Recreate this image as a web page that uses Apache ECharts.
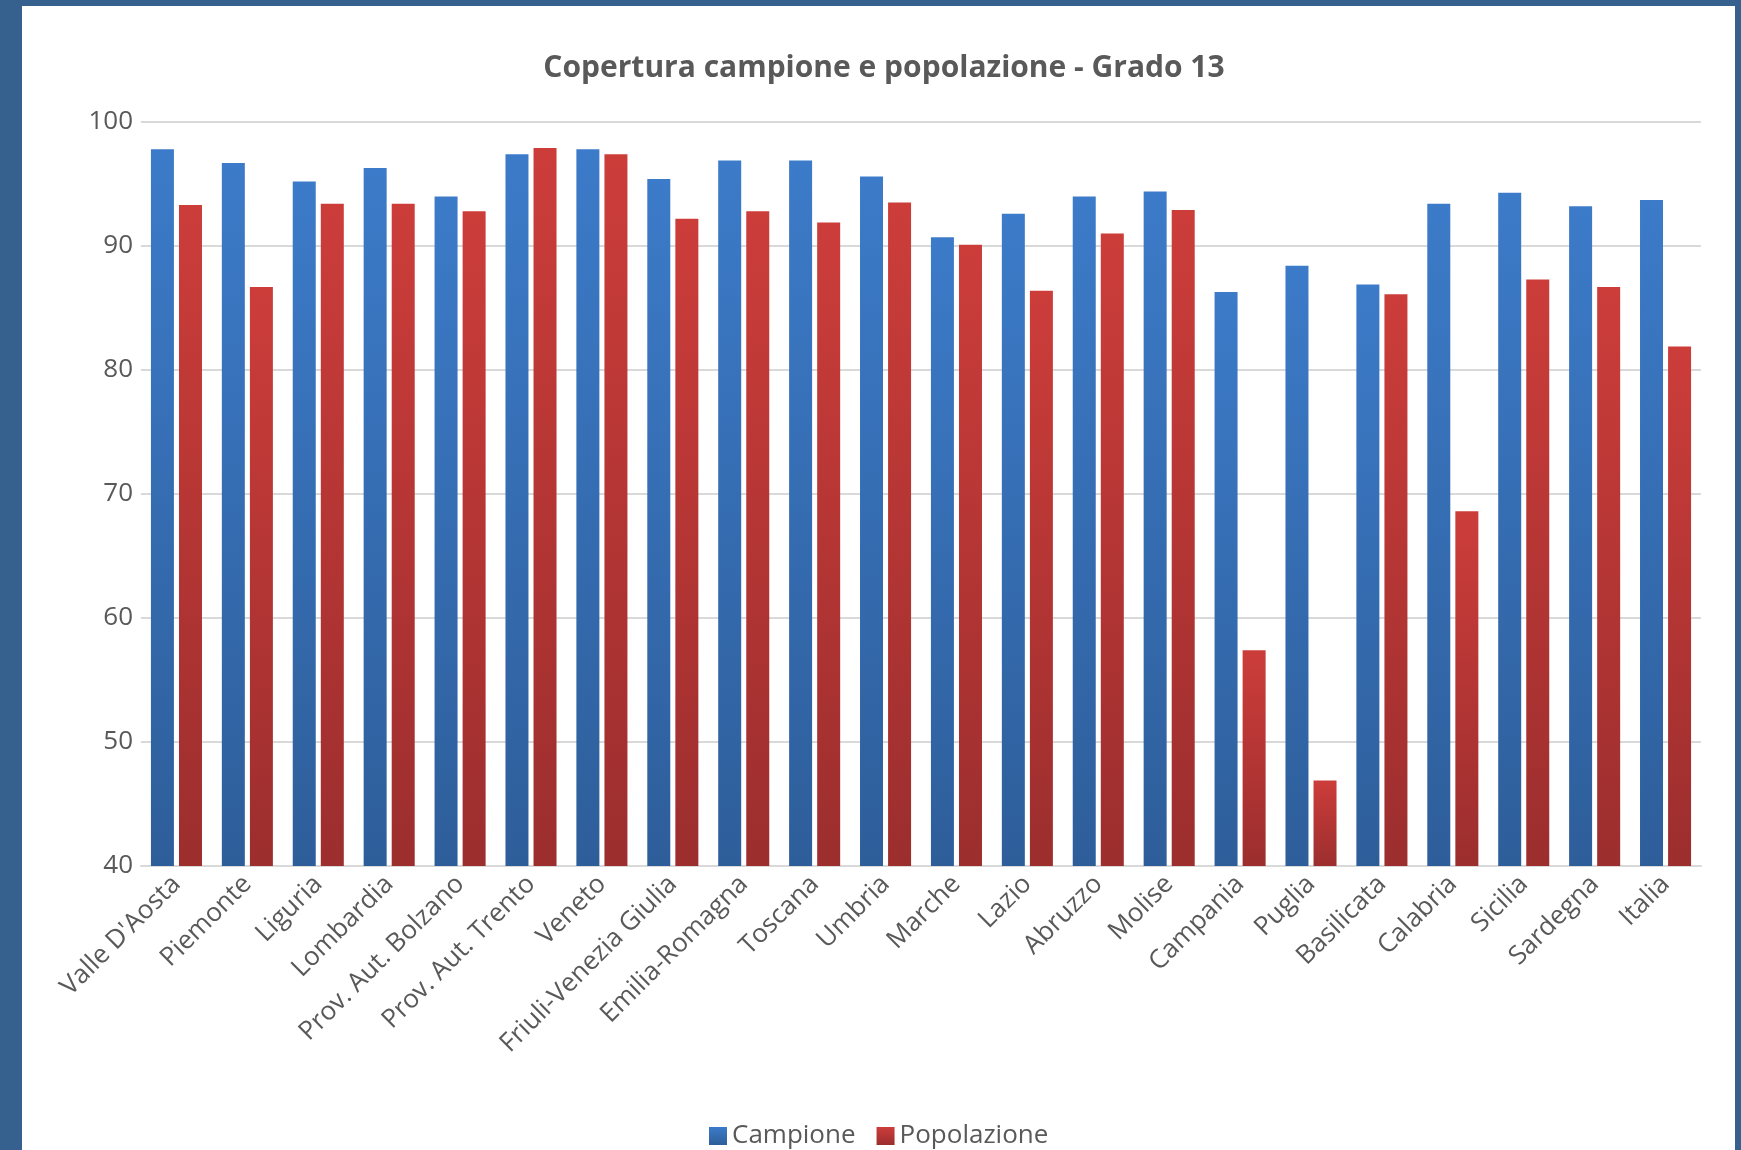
<!DOCTYPE html>
<html>
<head>
<meta charset="utf-8">
<script src="https://cdn.jsdelivr.net/npm/echarts@6/dist/echarts.min.js"></script>
<style>
  html, body { margin: 0; padding: 0; background: #fff; }
  #chart { width: 1741px; height: 1150px; }
</style>
</head>
<body>
<div id="chart"></div>
<script>
// dati
let regioni = ["Valle D'Aosta", 'Piemonte', 'Liguria', 'Lombardia', 'Prov. Aut. Bolzano', 'Prov. Aut. Trento',
  'Veneto', 'Friuli-Venezia Giulia', 'Emilia-Romagna', 'Toscana', 'Umbria', 'Marche', 'Lazio', 'Abruzzo',
  'Molise', 'Campania', 'Puglia', 'Basilicata', 'Calabria', 'Sicilia', 'Sardegna', 'Italia'];
let campione = [97.8, 96.7, 95.2, 96.3, 94.0, 97.4, 97.8, 95.4, 96.9, 96.9, 95.6, 90.7, 92.6, 94.0,
  94.4, 86.3, 88.4, 86.9, 93.4, 94.3, 93.2, 93.7];
let popolazione = [93.3, 86.7, 93.4, 93.4, 92.8, 97.9, 97.4, 92.2, 92.8, 91.9, 93.5, 90.1, 86.4, 91.0,
  92.9, 57.4, 46.9, 86.1, 68.6, 87.3, 86.7, 81.9];
let yTicks = [40, 50, 60, 70, 80, 90, 100];

let myChart = echarts.init(document.getElementById('chart'));
let frame = '#36618f';
let textColor = '#595959';
let font = "'Open Sans', 'Noto Sans', sans-serif";

function grad(top, bottom) {
  return new echarts.graphic.LinearGradient(0, 0, 0, 1, [
    { offset: 0, color: top },
    { offset: 1, color: bottom }
  ]);
}

let option = {
  backgroundColor: '#fff',
  animation: false,
  title: {
    text: 'Copertura campione e popolazione - Grado 13',
    left: 879,
    textAlign: 'center',
    top: 48,
    textStyle: { fontFamily: font, fontWeight: 'bold', fontSize: 30, color: textColor }
  },
  legend: {
    data: ['Campione', 'Popolazione'],
    left: 704,
    top: 1118,
    icon: 'rect',
    itemWidth: 18,
    itemHeight: 18,
    itemGap: 21,
    textStyle: { fontFamily: font, fontSize: 26, color: textColor }
  },
  grid: { left: 141, right: 40, top: 122, bottom: 284, containLabel: false },
  xAxis: {
    type: 'category',
    data: regioni,
    axisTick: { show: false },
    axisLine: { lineStyle: { color: '#d9d9d9', width: 2 } },
    axisLabel: {
      rotate: 45,
      interval: 0,
      margin: 14,
      fontFamily: font,
      fontSize: 26,
      color: textColor
    }
  },
  yAxis: {
    type: 'value',
    min: yTicks[0],
    max: yTicks[yTicks.length - 1],
    interval: 10,
    axisLine: { show: false },
    axisTick: { show: false },
    splitLine: { lineStyle: { color: '#d9d9d9', width: 2 } },
    axisLabel: { margin: 8, fontFamily: font, fontSize: 26, color: textColor }
  },
  series: [
    {
      name: 'Campione',
      type: 'bar',
      barWidth: 23,
      barGap: '22%',
      itemStyle: { color: grad('#3c7bc9', '#2e5e9a') },
      data: campione
    },
    {
      name: 'Popolazione',
      type: 'bar',
      barWidth: 23,
      barGap: '22%',
      itemStyle: { color: grad('#cc3d3a', '#9c2e2e') },
      data: popolazione
    }
  ],
  graphic: [
    { type: 'rect', left: 0, top: 0, shape: { width: 22, height: 1150 }, style: { fill: frame }, z: 100 },
    { type: 'rect', left: 0, top: 0, shape: { width: 1741, height: 6 }, style: { fill: frame }, z: 100 },
    { type: 'rect', left: 1735, top: 0, shape: { width: 6, height: 1150 }, style: { fill: frame }, z: 100 }
  ]
};

myChart.setOption(option);
</script>
</body>
</html>
